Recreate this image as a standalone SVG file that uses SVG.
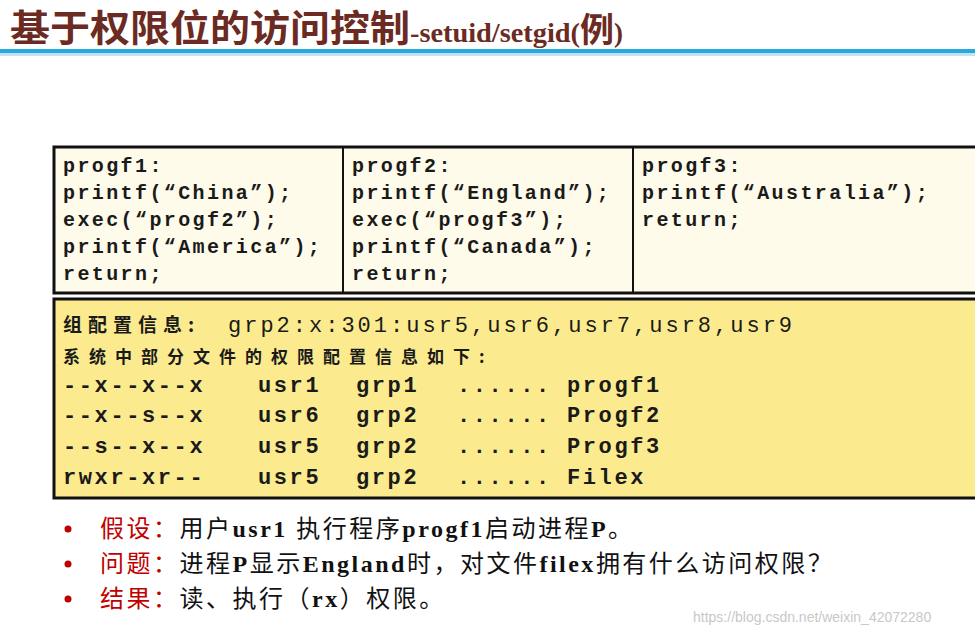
<svg xmlns="http://www.w3.org/2000/svg" width="975" height="635" viewBox="0 0 975 635">
<style>
.t{font-family:"Noto Sans CJK SC",sans-serif;font-weight:bold;fill:#6b2a22}
.c{font-family:"Liberation Mono","Noto Sans CJK SC",monospace;font-weight:bold;font-size:20px;letter-spacing:2.4px;fill:#1a1a1a}
.p{font-family:"Liberation Mono",monospace;font-weight:bold;font-size:22px;letter-spacing:2.6px;fill:#1a1a1a}
.cz{font-family:"Noto Sans CJK SC",sans-serif;font-weight:bold;fill:#1a1a1a}
.b{font-family:"Liberation Serif","Noto Sans CJK SC",serif;font-size:24px;letter-spacing:2.5px;fill:#111}
.r{fill:#c00000}
</style>
<rect width="975" height="635" fill="#fff"/>
<g id="title">
<text class="t" x="10" y="42" font-size="37" textLength="400" lengthAdjust="spacingAndGlyphs">基于权限位的访问控制</text>
<text x="410" y="42" font-family="Liberation Serif,serif" font-weight="bold" font-size="27" fill="#6b2a22" textLength="170" lengthAdjust="spacingAndGlyphs">-setuid/setgid(</text>
<text class="t" x="580" y="42" font-size="34" textLength="34" lengthAdjust="spacingAndGlyphs">例</text>
<text x="614" y="42" font-family="Liberation Serif,serif" font-weight="bold" font-size="27" fill="#6b2a22">)</text>
<rect x="0" y="49" width="975" height="4" fill="#29a8dc"/>
<rect x="0" y="53" width="975" height="3" fill="#bfe3f3"/>
</g>
<g id="code">
<rect x="54" y="147" width="940" height="146" fill="#fffbea" stroke="#111" stroke-width="3"/>
<line x1="343" y1="147" x2="343" y2="293" stroke="#111" stroke-width="2"/>
<line x1="633" y1="147" x2="633" y2="293" stroke="#111" stroke-width="2"/>
<text class="c" x="63" y="172">progf1:</text>
<text class="c" x="63" y="199">printf(“China”);</text>
<text class="c" x="63" y="226">exec(“progf2”);</text>
<text class="c" x="63" y="253">printf(“America”);</text>
<text class="c" x="63" y="280">return;</text>
<text class="c" x="352" y="172">progf2:</text>
<text class="c" x="352" y="199">printf(“England”);</text>
<text class="c" x="352" y="226">exec(“progf3”);</text>
<text class="c" x="352" y="253">printf(“Canada”);</text>
<text class="c" x="352" y="280">return;</text>
<text class="c" x="642" y="172">progf3:</text>
<text class="c" x="642" y="199">printf(“Australia”);</text>
<text class="c" x="642" y="226">return;</text>
</g>
<g id="perm">
<rect x="54" y="299" width="940" height="199" fill="#fbeb8e" stroke="#111" stroke-width="3"/>
<text class="cz" x="63" y="332" font-size="19" letter-spacing="6">组配置信息:</text>
<text x="228" y="332" font-family="Liberation Mono,monospace" font-size="22" letter-spacing="3" fill="#1a1a1a">grp2:x:301:usr5,usr6,usr7,usr8,usr9</text>
<text class="cz" x="63" y="363" font-size="17" letter-spacing="9">系统中部分文件的权限配置信息如下:</text>
<g class="p">
<text x="63" y="392">--x--x--x</text><text x="258" y="392">usr1</text><text x="356" y="392">grp1</text><text x="457" y="392">......</text><text x="567" y="392">progf1</text>
<text x="63" y="422">--x--s--x</text><text x="258" y="422">usr6</text><text x="356" y="422">grp2</text><text x="457" y="422">......</text><text x="567" y="422">Progf2</text>
<text x="63" y="453">--s--x--x</text><text x="258" y="453">usr5</text><text x="356" y="453">grp2</text><text x="457" y="453">......</text><text x="567" y="453">Progf3</text>
<text x="63" y="484">rwxr-xr--</text><text x="258" y="484">usr5</text><text x="356" y="484">grp2</text><text x="457" y="484">......</text><text x="567" y="484">Filex</text>
</g>
</g>
<g id="notes">
<circle cx="68" cy="529" r="3.5" fill="#c00000"/>
<circle cx="68" cy="564" r="3.5" fill="#c00000"/>
<circle cx="68" cy="599" r="3.5" fill="#c00000"/>
<text class="b" x="100" y="537"><tspan class="r">假设：</tspan>用户<tspan font-weight="bold">usr1</tspan> 执行程序<tspan font-weight="bold">progf1</tspan>启动进程<tspan font-weight="bold">P</tspan>。</text>
<text class="b" x="100" y="572"><tspan class="r">问题：</tspan>进程<tspan font-weight="bold">P</tspan>显示<tspan font-weight="bold">England</tspan>时，对文件<tspan font-weight="bold">filex</tspan>拥有什么访问权限？</text>
<text class="b" x="100" y="607"><tspan class="r">结果：</tspan>读、执行（<tspan font-weight="bold">rx</tspan>）权限。</text>
<text x="693" y="622" font-family="Liberation Sans,sans-serif" font-size="14" fill="#c8c8c8">https://blog.csdn.net/weixin_42072280</text>
</g>
</svg>
